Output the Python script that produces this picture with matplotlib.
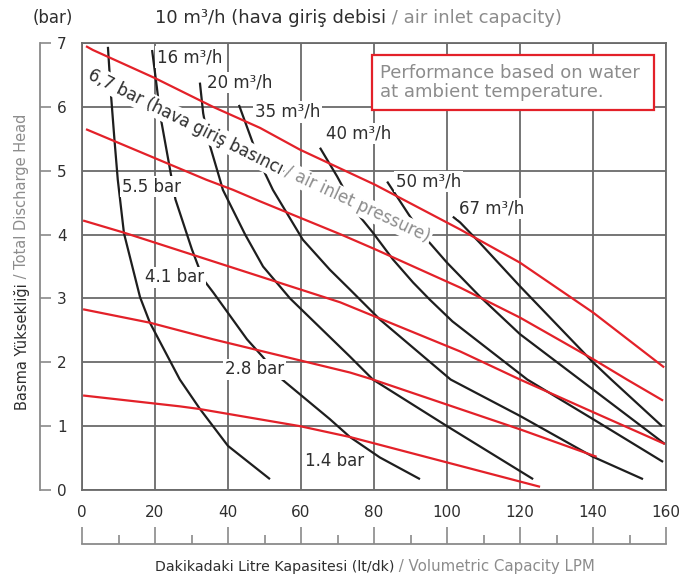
import matplotlib.pyplot as plt
from matplotlib.patches import Rectangle

# red lines: constant air inlet pressure (bar)
r67_x = [1.1, 3, 20, 35.9, 48.8, 59.7, 80.3, 103.6, 120, 140, 159.5]
r67_y = [6.95, 6.89, 6.45, 6.0, 5.67, 5.33, 4.78, 4.08, 3.56, 2.78, 1.92]
r55_x = [1.1, 34, 41.4, 48.8, 71, 80.3, 103.6, 120, 140, 149.3, 159.2]
r55_y = [5.65, 4.86, 4.7, 4.52, 4.0, 3.77, 3.17, 2.7, 2.05, 1.73, 1.40]
r41_x = [0.3, 11.5, 70.7, 103.6, 120, 140, 159.7]
r41_y = [4.22, 4.03, 2.94, 2.17, 1.73, 1.22, 0.72]
r28_x = [0.3, 18.6, 35.9, 73.4, 79.7, 120, 141]
r28_y = [2.83, 2.62, 2.36, 1.84, 1.73, 0.95, 0.52]
r14_x = [0.3, 26.8, 32, 59.7, 73.4, 125.5]
r14_y = [1.48, 1.31, 1.27, 1.0, 0.83, 0.05]

# black lines: constant air consumption (m3/h)
b10_x = [7.1, 7.9, 8.9, 9.8, 11.5, 15.9, 18.6, 26.8, 32.3, 40, 51.5]
b10_y = [6.94, 6.22, 5.48, 4.86, 4.02, 3.02, 2.62, 1.73, 1.27, 0.69, 0.17]
b16_x = [19.2, 20.5, 21.4, 23.8, 25.6, 30.1, 33.2, 36, 45.2, 49.6, 54.2, 67.9, 73.4, 81.6, 92.6]
b16_y = [6.89, 6.31, 5.88, 5.12, 4.55, 3.77, 3.3, 3.09, 2.36, 2.08, 1.76, 1.11, 0.83, 0.51, 0.17]
b20_x = [32.3, 33.2, 34.5, 37.8, 38.6, 44.7, 49.6, 57, 73.4, 79.7, 100, 123.6]
b20_y = [6.38, 5.9, 5.5, 4.86, 4.7, 4.0, 3.5, 3.0, 2.09, 1.73, 1.0, 0.17]
b35_x = [43, 46, 48.8, 52.3, 60.5, 67.9, 73.4, 79.7, 81.6, 101, 120, 140, 153.7]
b35_y = [6.03, 5.56, 5.12, 4.7, 3.92, 3.45, 3.14, 2.78, 2.67, 1.73, 1.16, 0.52, 0.17]
b40_x = [65.2, 69.9, 75.3, 79.7, 85.2, 90.7, 95.3, 101.5, 122, 140, 159.2]
b40_y = [5.36, 4.91, 4.34, 4.03, 3.61, 3.25, 2.98, 2.64, 1.73, 1.11, 0.44]
b50_x = [83.6, 89.9, 94.5, 100, 109, 120, 136.4, 159.7]
b50_y = [4.83, 4.28, 3.92, 3.56, 3.03, 2.44, 1.73, 0.72]
b67_x = [101.6, 103.6, 109, 120, 140, 145, 158.9]
b67_y = [4.28, 4.19, 3.87, 3.19, 2.0, 1.73, 1.0]

x_ticks = [0, 20, 40, 60, 80, 100, 120, 140, 160]
y_ticks = [0, 1, 2, 3, 4, 5, 6, 7]

RED = "#e32129"
BLK = "#1e1e1e"
GRID = "#6a6a6a"
DARK = "#2e2e2e"
GREY = "#8c8c8c"

plt.rcParams["font.family"] = "DejaVu Sans"

fig = plt.figure(figsize=(6.97, 5.77), dpi=100)
ax = fig.add_axes([82 / 697, 87 / 577, 584 / 697, 447 / 577])
ax.set_xlim(0, 160)
ax.set_ylim(0, 7)
ax.set_xticks(x_ticks)
ax.set_yticks(y_ticks)
ax.grid(True, color=GRID, lw=1.3, zorder=1)
ax.set_axisbelow(True)
for s in ax.spines.values():
    s.set_color(GRID)
    s.set_linewidth(1.3)
ax.tick_params(axis="x", length=0, pad=11, labelsize=11, labelcolor=DARK)
ax.tick_params(axis="y", length=0, pad=11, labelsize=11, labelcolor=DARK)

# offset bracket axes
sy = ax.secondary_yaxis(-0.0719)
sy.set_yticks(y_ticks)
sy.tick_params(direction="in", length=8, width=1.2, color="#8a8a8a", labelleft=False)
sy.spines["left"].set_color("#8a8a8a")
sy.spines["left"].set_linewidth(1.3)

sx = ax.secondary_xaxis(-0.1208)
sx.set_xticks(x_ticks)
sx.set_xticks(range(10, 160, 20), minor=True)
sx.tick_params(which="major", direction="in", length=12, width=1.2, color="#8a8a8a", labelbottom=False)
sx.tick_params(which="minor", direction="in", length=6.5, width=1.2, color="#8a8a8a")
sx.spines["bottom"].set_color("#8a8a8a")
sx.spines["bottom"].set_linewidth(1.3)

for xs, ys in [(b10_x, b10_y), (b16_x, b16_y), (b20_x, b20_y), (b35_x, b35_y),
               (b40_x, b40_y), (b50_x, b50_y), (b67_x, b67_y)]:
    ax.plot(xs, ys, color=BLK, lw=1.6, zorder=2, solid_capstyle="butt", solid_joinstyle="round")

for xs, ys in [(r67_x, r67_y), (r55_x, r55_y), (r41_x, r41_y), (r28_x, r28_y), (r14_x, r14_y)]:
    ax.plot(xs, ys, color=RED, lw=1.6, zorder=5, solid_capstyle="butt", solid_joinstyle="round")

mask = dict(facecolor="white", edgecolor="none", pad=1.2)

flow_labels = ["16 m³/h", "20 m³/h", "35 m³/h", "40 m³/h", "50 m³/h", "67 m³/h"]
flow_pos = [(20.5, 6.78), (34.2, 6.38), (47.4, 5.92), (66.8, 5.58), (86, 4.83), (103.3, 4.41)]
for lab, (x, y) in zip(flow_labels, flow_pos):
    ax.text(x, y, lab, fontsize=12, color=DARK, ha="left", va="center", bbox=mask, zorder=4)

bar_labels = ["5.5 bar", "4.1 bar", "2.8 bar", "1.4 bar"]
bar_pos = [(11, 4.75), (17.3, 3.33), (39.2, 1.89), (61.1, 0.45)]
for lab, (x, y) in zip(bar_labels, bar_pos):
    ax.text(x, y, lab, fontsize=12, color=DARK, ha="left", va="center", bbox=mask, zorder=4)

ax.text(1.4, 6.45, "6,7 bar (hava giriş basıncı", fontsize=12, color=DARK, rotation=-26.5,
        rotation_mode="anchor", ha="left", va="baseline", bbox=mask, zorder=4)
ax.text(55.3, 4.92, "/ air inlet pressure)", fontsize=12, color=GREY, rotation=-25,
        rotation_mode="anchor", ha="left", va="baseline", bbox=mask, zorder=4)

ax.add_patch(Rectangle((79.5, 5.95), 77.2, 0.86, facecolor="white", edgecolor=RED, lw=1.6, zorder=6))
ax.text(81.6, 6.38, "Performance based on water\nat ambient temperature.", fontsize=13,
        color=GREY, ha="left", va="center", linespacing=1.1, zorder=7)

# titles and axis labels
fig.text(33 / 697, 1 - 18 / 577, "(bar)", fontsize=12, color=DARK, ha="left", va="center")
t1 = fig.text(155 / 697, 1 - 18 / 577, "10 m³/h (hava giriş debisi", fontsize=13, color=DARK,
              ha="left", va="center")
ax.annotate(" / air inlet capacity)", xy=(1, 0), xycoords=t1, fontsize=13, color=GREY,
            ha="left", va="bottom", annotation_clip=False)

t2 = fig.text(155 / 697, 10 / 577, "Dakikadaki Litre Kapasitesi (lt/dk)", fontsize=10.2, color=DARK,
              ha="left", va="center")
ax.annotate(" / Volumetric Capacity LPM", xy=(1, 0), xycoords=t2, fontsize=10.8, color=GREY,
            ha="left", va="bottom", annotation_clip=False)

t3 = fig.text(22 / 697, 167 / 577, "Basma Yüksekliği", fontsize=10.5, color=DARK,
              rotation=90, ha="center", va="bottom")
ax.annotate(" / Total Discharge Head", xy=(0.5, 1), xycoords=t3, fontsize=10.5, color=GREY,
            rotation=90, ha="center", va="bottom", annotation_clip=False)

fig.savefig("out.png", dpi=100)
